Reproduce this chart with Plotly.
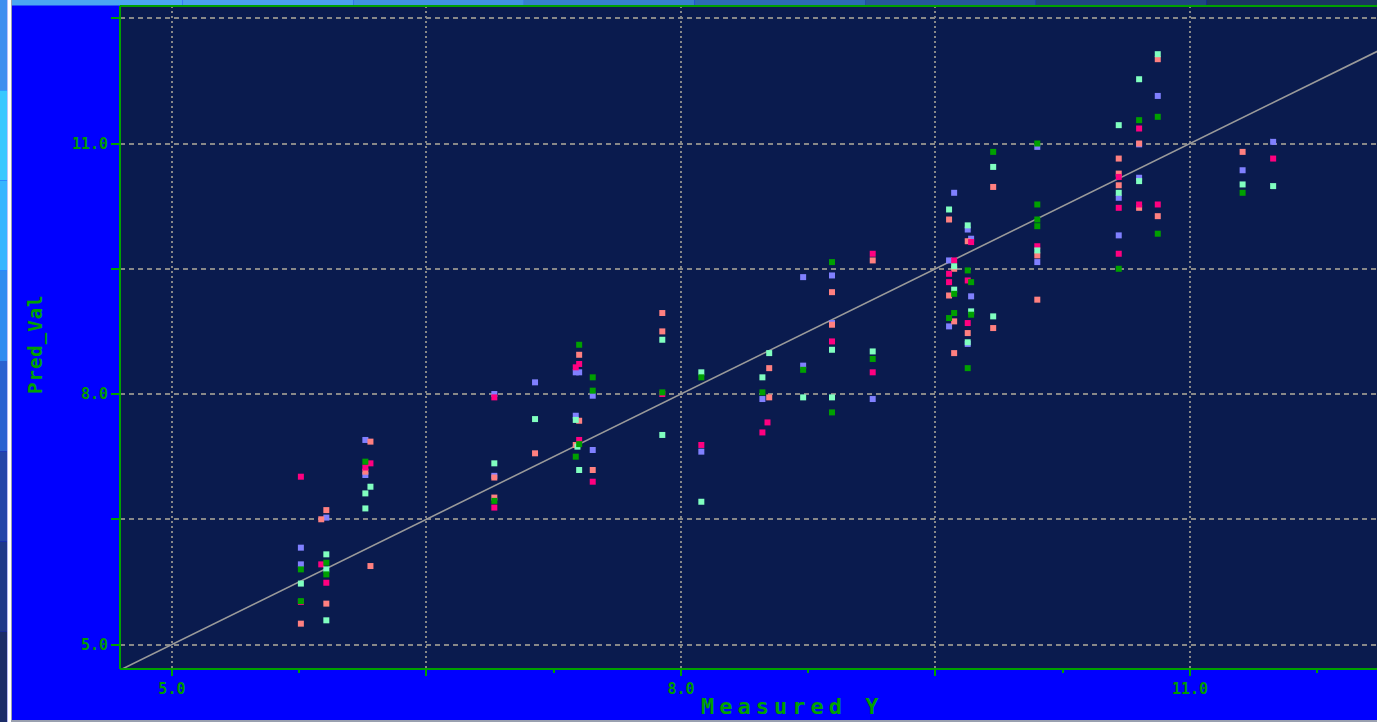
import plotly.graph_objects as go

# Measured vs predicted values, one list pair per prediction set
meas_lav = [5.76, 5.76, 5.91, 6.14, 6.14, 6.90, 6.90, 7.14, 7.38, 7.40, 7.38, 7.48, 7.48,
            8.12, 8.48, 8.72, 8.72, 8.89, 8.89, 9.13, 9.61, 9.58, 9.58, 9.69, 9.71, 9.71,
            9.69, 10.10, 10.10, 10.58, 10.58, 10.70, 10.70, 10.81, 11.31, 11.49]
pred_lav = [6.16, 5.96, 6.52, 7.45, 7.03, 8.00, 7.02, 8.14, 8.26, 8.26, 7.74, 7.98, 7.33,
            7.31, 7.94, 9.40, 8.34, 9.42, 8.85, 7.94, 10.41, 9.60, 8.81, 9.97, 9.86, 9.17,
            8.60, 10.96, 9.58, 10.35, 9.90, 10.99, 10.59, 11.57, 10.68, 11.02]

meas_sal = [5.76, 5.91, 5.88, 5.91, 6.17, 6.14, 6.17, 6.90, 6.90, 7.14, 7.40, 7.40, 7.38,
            7.48, 7.89, 7.89, 8.52, 8.52, 8.89, 8.89, 9.13, 9.58, 9.61, 9.58, 9.61, 9.61,
            9.69, 9.69, 9.84, 9.84, 10.10, 10.10, 10.58, 10.58, 10.58, 10.70, 10.70, 10.81,
            10.81, 11.31]
pred_sal = [5.25, 6.61, 6.50, 5.49, 7.43, 7.07, 5.94, 7.00, 6.76, 7.29, 8.47, 7.68, 7.39,
            7.09, 8.97, 8.75, 8.31, 7.96, 9.22, 8.83, 9.60, 10.09, 9.50, 9.18, 8.87, 8.49,
            9.83, 8.73, 10.48, 8.79, 9.66, 9.13, 10.82, 10.64, 10.50, 11.00, 10.23, 12.01,
            10.13, 10.90]

meas_pink = [5.76, 5.76, 5.88, 5.91, 6.17, 6.14, 6.90, 6.90, 7.40, 7.38, 7.40, 7.48, 7.89,
             8.12, 8.51, 8.48, 8.89, 9.13, 9.13, 9.61, 9.58, 9.58, 9.71, 9.69, 9.69, 10.10,
             10.58, 10.58, 10.58, 10.70, 10.70, 10.81, 11.49]
pred_pink = [7.01, 5.51, 5.96, 5.74, 7.17, 7.12, 7.96, 6.64, 8.36, 8.32, 7.45, 6.95, 8.00,
             7.39, 7.66, 7.54, 8.63, 9.68, 8.26, 9.60, 9.44, 9.34, 9.82, 9.36, 8.85, 9.77,
             10.60, 10.23, 9.68, 11.18, 10.27, 10.27, 10.82]

meas_aqua = [5.76, 5.91, 5.91, 5.91, 6.17, 6.14, 6.14, 6.90, 7.14, 7.38, 7.39, 7.40, 7.89,
             7.89, 8.12, 8.12, 8.52, 8.48, 8.72, 8.89, 8.89, 9.13, 9.58, 9.61, 9.61, 9.69,
             9.71, 9.69, 9.84, 9.84, 10.10, 10.58, 10.58, 10.70, 10.70, 10.81, 11.31, 11.49]
pred_aqua = [5.73, 6.08, 5.90, 5.29, 6.89, 6.81, 6.63, 7.17, 7.70, 7.69, 7.37, 7.09, 8.65,
             7.51, 8.26, 6.71, 8.49, 8.20, 7.96, 8.53, 7.96, 8.51, 10.21, 9.25, 9.53, 10.02,
             8.99, 8.62, 10.72, 8.93, 9.72, 11.22, 10.41, 11.77, 10.55, 12.07, 10.51, 10.49]

meas_grn = [5.76, 5.76, 5.91, 5.91, 6.14, 6.90, 7.40, 7.40, 7.38, 7.48, 7.48, 7.89, 8.12,
            8.48, 8.72, 8.89, 8.89, 9.13, 9.61, 9.61, 9.58, 9.69, 9.71, 9.71, 9.69, 9.84,
            10.10, 10.10, 10.10, 10.10, 10.58, 10.70, 10.81, 10.81, 11.31]
pred_grn = [5.90, 5.52, 5.98, 5.84, 7.19, 6.72, 8.59, 7.40, 7.25, 8.20, 8.04, 8.02, 8.20,
            8.02, 8.29, 9.58, 7.78, 8.42, 9.20, 8.97, 8.91, 9.48, 9.34, 8.95, 8.31, 10.90,
            11.00, 10.27, 10.09, 10.01, 9.50, 11.28, 11.32, 9.92, 10.41]

# Axis ranges, ticks and the 1:1 reference line
x_range = [4.694, 12.102]
y_range = [4.707, 12.647]
major_ticks = [5.0, 6.5, 8.0, 9.5, 11.0, 12.5]
major_labels = ["5.0", "", "8.0", "", "11.0", ""]
identity = [4.5, 12.5]

GREEN = "#00A000"
TEXT_GREEN = "#009A00"
GRID = "#888888"

fig = go.Figure()

fig.add_trace(go.Scatter(x=identity, y=identity, mode="lines",
                         line=dict(color="#9a9a9a", width=1.6), hoverinfo="skip"))

series = [
    ("set_1", meas_lav, pred_lav, "#8080FF"),
    ("set_2", meas_sal, pred_sal, "#FF8080"),
    ("set_3", meas_pink, pred_pink, "#FF0080"),
    ("set_4", meas_aqua, pred_aqua, "#80FFC0"),
    ("set_5", meas_grn, pred_grn, "#00A000"),
]
for name, xs, ys, col in series:
    fig.add_trace(go.Scatter(x=xs, y=ys, mode="markers", name=name,
                             marker=dict(symbol="square", size=6, color=col,
                                         line=dict(width=0))))

W, H = 1377, 722
L, T, B = 120, 6, 669
PW, PH = W - L, B - T


def px(x):
    return (x - L) / PW


def py(y):
    return (B - y) / PH


shapes = []
# window frame: gradient strip on the left edge
left_cols = ["#3f8fef", "#38c8ff", "#35b6ff", "#2f8cf0", "#2a62d0", "#2345a8", "#1f3888", "#1b2c68"]
n = len(left_cols)
for i, c in enumerate(left_cols):
    shapes.append(dict(type="rect", xref="paper", yref="paper",
                       x0=px(0), x1=px(7.3), y0=py(H * i / n), y1=py(H * (i + 1) / n),
                       fillcolor=c, line=dict(width=0), layer="above"))
shapes.append(dict(type="rect", xref="paper", yref="paper", x0=px(7.3), x1=px(11),
                   y0=py(0), y1=py(H), fillcolor="#ffffff", line=dict(width=0), layer="above"))
shapes.append(dict(type="rect", xref="paper", yref="paper", x0=px(11), x1=px(12),
                   y0=py(0), y1=py(H), fillcolor="#9aa0b0", line=dict(width=0), layer="above"))
# top strip
top_cols = ["#4aa6f2", "#4aa0ee", "#3f92e0", "#3580cc", "#2c6cb4", "#25589a", "#1f4680", "#1a3660"]
n = len(top_cols)
for i, c in enumerate(top_cols):
    shapes.append(dict(type="rect", xref="paper", yref="paper",
                       x0=px(12 + (W - 12) * i / n), x1=px(12 + (W - 12) * (i + 1) / n),
                       y0=py(5.5), y1=py(0), fillcolor=c, line=dict(width=0), layer="above"))
# bottom edge line
shapes.append(dict(type="rect", xref="paper", yref="paper", x0=px(12), x1=px(W),
                   y0=py(H), y1=py(720), fillcolor="#9aa0b0", line=dict(width=0), layer="above"))
# plot frame (left, bottom, top)
for (x0, y0, x1, y1) in [(0, 0, 0, 1), (0, 0, 1, 0), (0, 1, 1, 1)]:
    shapes.append(dict(type="line", xref="paper", yref="paper", x0=x0, y0=y0, x1=x1, y1=y1,
                       line=dict(color=GREEN, width=2), layer="above"))

annotations = [
    dict(text="<span style='letter-spacing:5px'>Measured Y</span>", xref="paper", yref="paper",
         x=px(792), y=py(706), xanchor="center", yanchor="middle", showarrow=False,
         font=dict(family="DejaVu Sans Mono", size=22, color=GREEN, weight="bold")),
    dict(text="<span style='letter-spacing:1px'>Pred_Val</span>", xref="paper", yref="paper",
         x=px(35), y=py(344), xanchor="center", yanchor="middle", showarrow=False, textangle=-90,
         font=dict(family="DejaVu Sans Mono", size=19, color=GREEN, weight="bold")),
]

tick_font = dict(family="DejaVu Sans Mono", size=15, color=TEXT_GREEN, weight="bold")

fig.update_layout(
    width=W, height=H,
    margin=dict(l=L, r=0, t=T, b=H - B, pad=0),
    paper_bgcolor="#0000FF",
    plot_bgcolor="#0A1B4E",
    showlegend=False,
    shapes=shapes,
    annotations=annotations,
    xaxis=dict(range=x_range, tickmode="array", tickvals=major_ticks, ticktext=major_labels,
               ticks="outside", ticklen=6, tickwidth=2, tickcolor=GREEN,
               tickfont=tick_font, showline=False, zeroline=False,
               showgrid=True, gridcolor=GRID, gridwidth=2, griddash="2px,3px",
               minor=dict(tickmode="linear", tick0=5.0, dtick=0.75, ticks="outside",
                          ticklen=3, tickwidth=2, tickcolor=GREEN, showgrid=False)),
    yaxis=dict(range=y_range, tickmode="array", tickvals=major_ticks, ticktext=major_labels,
               ticks="outside", ticklen=8, tickwidth=2, tickcolor=GREEN,
               tickfont=tick_font, showline=False, zeroline=False,
               showgrid=True, gridcolor=GRID, gridwidth=2, griddash="5px,4px"),
)

fig.write_html("out.html")
